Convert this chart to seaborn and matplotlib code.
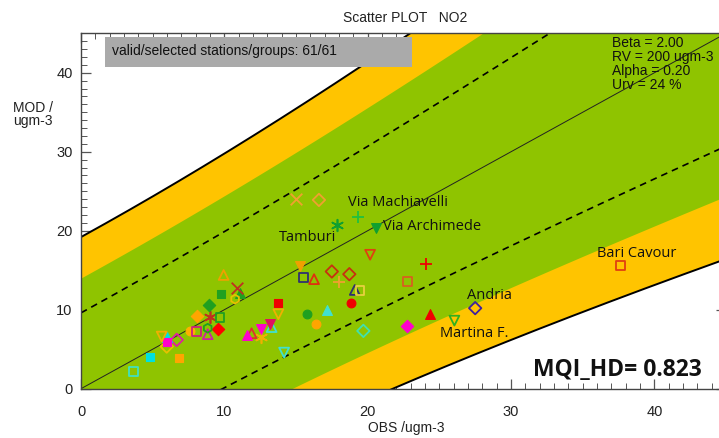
import numpy as np
import pandas as pd
import matplotlib
matplotlib.use("Agg")
import matplotlib.pyplot as plt
import matplotlib.patches as mpatches
import seaborn as sns

# ---------------- data ----------------
obs = [3.65, 4.82, 6.82, 5.98, 5.98, 5.63, 5.98, 6.68, 7.61, 8.07,
       8.12, 8.93, 9.77, 9.95, 9.0, 9.7, 8.84, 8.84, 9.58, 15.0,
       16.6, 19.3, 17.84, 20.6, 20.17, 15.28, 15.5, 16.26, 17.5, 18.72,
       18.0, 22.77, 19.1, 19.47, 10.9, 11.1, 10.75, 13.77, 13.77, 15.75,
       16.4, 17.19, 18.82, 19.7, 22.77, 12.54, 13.19, 13.3, 11.6, 11.9,
       12.54, 14.17, 24.07, 24.35, 26.05, 27.5, 37.66]
mod = [2.16, 3.98, 3.85, 6.5, 5.88, 6.6, 5.33, 6.18, 7.36, 7.23,
       9.22, 10.6, 12.0, 14.4, 9.05, 8.97, 7.66, 6.9, 7.53, 24.0,
       23.9, 21.8, 20.67, 20.4, 16.96, 15.56, 14.08, 13.87, 14.84, 14.5,
       13.57, 13.57, 12.5, 12.39, 12.8, 12.1, 11.34, 10.9, 9.43, 9.47,
       8.2, 9.98, 10.9, 7.32, 7.99, 7.57, 8.17, 7.8, 6.81, 7.02,
       6.52, 4.57, 15.8, 9.47, 8.62, 10.2, 15.56]
symbols = ["s", "s", "s", "^", "s", "v", "D", "D", "o", "s",
           "D", "D", "s", "^", "*", "s", "h", "^", "D", "x",
           "D", "+", "*", "v", "v", "v", "s", "^", "D", "D",
           "+", "s", "^", "s", "x", "^", "h", "s", "v", "o",
           "o", "^", "o", "D", "D", "v", "v", "^", "^", "^",
           "*", "v", "+", "^", "v", "D", "s"]
filled = [0, 1, 1, 1, 1, 0, 0, 0, 1, 0,
          1, 1, 1, 0, 1, 0, 0, 0, 1, 1,
          0, 1, 1, 1, 0, 1, 0, 0, 0, 0,
          1, 0, 0, 0, 1, 1, 0, 1, 0, 1,
          1, 1, 1, 0, 1, 1, 1, 0, 1, 0,
          1, 0, 1, 1, 0, 0, 0]
colors = ["#40e0c0", "#00e0e0", "#ffa500", "#00e0e0", "#ff00cc", "#f0b000", "#e8c000", "#e020a0", "#ffb000", "#d02080",
          "#ffa500", "#20a020", "#20a020", "#f0a000", "#c03020", "#20a020", "#20a020", "#d020a0", "#ff0000", "#f0a030",
          "#f0a030", "#20c040", "#10a030", "#10a030", "#e04010", "#f0a000", "#303070", "#e03010", "#c83010", "#c83010",
          "#f0a030", "#d86020", "#303070", "#e8d040", "#c03020", "#20a020", "#e8c000", "#f00000", "#f0b000", "#20a020",
          "#ffa500", "#40e0d0", "#f00000", "#40e0b0", "#ff00cc", "#ff00cc", "#e01060", "#40e0d0", "#ff00cc", "#e03030",
          "#f0b000", "#40e0d0", "#f00000", "#f00000", "#30b020", "#4020a0", "#e04010"]

station_names = ["Via Machiavelli", "Via Archimede", "Tamburi", "Bari Cavour", "Andria", "Martina F."]
station_lx = [18.63, 21.07, 13.82, 36.0, 26.94, 25.05]
station_ly = [23.55, 20.5, 19.1, 17.08, 11.76, 6.94]

beta, rv, alpha, urv = 2.0, 200.0, 0.20, 0.24
green_factor = 1.45
xmax, ymax = 45, 45

# ---------------- figure ----------------
sns.set_theme(style="white")
plt.rcParams["font.family"] = ["Liberation Sans", "DejaVu Sans"]

fig = plt.figure(figsize=(7.19, 4.38), dpi=100)
ax = fig.add_axes([81 / 719, 49.3 / 438, 645 / 719, 355.4 / 438])
ax.set_xlim(0, xmax)
ax.set_ylim(0, ymax)

xs = np.linspace(0, xmax, 400)
U = urv * np.sqrt((1 - alpha ** 2) * xs ** 2 + (alpha * rv) ** 2)
yellow = "#ffc400"
green = "#8fc400"
ax.fill_between(xs, xs - beta * U, xs + beta * U, color=yellow, lw=0, zorder=1)
ax.fill_between(xs, xs - green_factor * U, xs + green_factor * U, color=green, lw=0, zorder=1.1)
ax.plot(xs, xs + beta * U, color="black", lw=1.4, zorder=2)
ax.plot(xs, xs - beta * U, color="black", lw=1.4, zorder=2)
ax.plot(xs, xs + U, color="black", lw=1.2, ls=(0, (4, 3)), zorder=2)
ax.plot(xs, xs - U, color="black", lw=1.2, ls=(0, (4, 3)), zorder=2)
ax.plot(xs, xs, color="#222222", lw=0.7, zorder=2)

df = pd.DataFrame({"obs": obs, "mod": mod, "sym": symbols, "filled": filled, "col": colors})
for (sym, fl, col), g in df.groupby(["sym", "filled", "col"]):
    size = 40 if sym in ("s", "D", "o", "h") else 50
    if sym == "*":
        mk = (6, 2, 0)
        sns.scatterplot(data=g, x="obs", y="mod", marker=mk, s=70, color=col,
                        linewidth=1.2, ax=ax, zorder=3)
    elif sym in ("x", "+"):
        sns.scatterplot(data=g, x="obs", y="mod", marker=sym, s=70, color=col,
                        linewidth=1.3, ax=ax, zorder=3)
    elif fl:
        sns.scatterplot(data=g, x="obs", y="mod", marker=sym, s=size, color=col,
                        edgecolor=col, linewidth=0.8, ax=ax, zorder=3)
    else:
        sns.scatterplot(data=g, x="obs", y="mod", marker=sym, s=size, color=col,
                        facecolor="none", edgecolor=col, linewidth=1.3, ax=ax, zorder=3)

for name, lx, ly in zip(station_names, station_lx, station_ly):
    ax.text(lx, ly, name, fontsize=10.5, family=["Open Sans", "DejaVu Sans"],
            color="#111111", ha="left", va="center", zorder=5)

# ticks / spines
ax.set_axisbelow(True)
ax.set_xticks([0, 10, 20, 30, 40])
ax.set_yticks([0, 10, 20, 30, 40])
ax.set_xticks(np.arange(0, 46, 1), minor=True)
ax.set_yticks(np.arange(0, 46, 1), minor=True)
ax.tick_params(which="both", direction="in", bottom=True, left=True, top=True, right=True,
               color="#555555", labelsize=10.5, labelcolor="#222222")
ax.tick_params(which="major", length=7, width=0.9, pad=12)
ax.tick_params(which="minor", length=4, width=0.7)
ax.tick_params(axis="y", which="major", pad=6)
for sp in ax.spines.values():
    sp.set_color("#444444")
    sp.set_linewidth(1.0)
    sp.set_zorder(2.5)
ax.set_xlabel("")
ax.set_ylabel("")
ax.grid(False)

# gray box
box = mpatches.Rectangle(((105 - 81) / 645, (388.7 - 67) / 355.4), (412 - 105) / 645, 30 / 355.4,
                         transform=ax.transAxes, facecolor="#aaaaaa", edgecolor="none", zorder=6)
ax.add_patch(box)
fig.text(112 / 719, 1 - 51 / 438, "valid/selected stations/groups: 61/61", fontsize=10,
         color="#111111", ha="left", va="center", zorder=7)

fig.text(612 / 719, 1 - 36 / 438, "Beta = 2.00\nRV = 200 ugm-3\nAlpha = 0.20\nUrv = 24 %",
         fontsize=10, color="#111111", ha="left", va="top", linespacing=1.0, zorder=7)

fig.text(405 / 719, 1 - 18 / 438, "Scatter PLOT   NO2", fontsize=10, color="#222222",
         ha="center", va="center")
fig.text(406 / 719, 1 - 428 / 438, "OBS /ugm-3", fontsize=10, color="#222222",
         ha="center", va="center")
fig.text(13 / 719, 1 - 108 / 438, "MOD /", fontsize=10, color="#222222", ha="left", va="center")
fig.text(13 / 719, 1 - 121 / 438, "ugm-3", fontsize=10, color="#222222", ha="left", va="center")

fig.text(533 / 719, 1 - 370 / 438, "MQI_HD= 0.823", fontsize=16.5, fontweight="bold",
         family=["Open Sans", "DejaVu Sans"], color="#111111", ha="left", va="center")

fig.savefig("out.png", dpi=100)
